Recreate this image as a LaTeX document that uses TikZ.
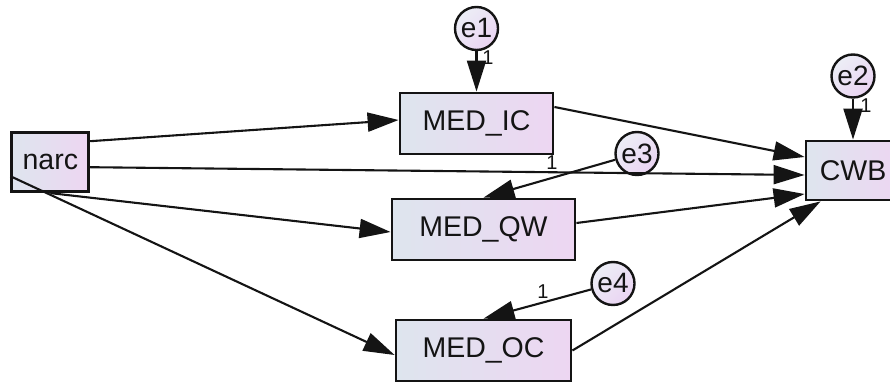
\documentclass[tikz,border=0pt]{standalone}
\usepackage{fontspec}
\setmainfont{Liberation Sans}
\usetikzlibrary{arrows.meta}

\definecolor{fillL}{RGB}{222,229,238}
\definecolor{fillR}{RGB}{237,214,242}
\definecolor{errL}{RGB}{236,238,246}
\definecolor{errR}{RGB}{234,212,242}
\definecolor{ink}{RGB}{20,20,20}

\tikzset{
  obs/.style={draw=ink, line width=2.8pt, left color=fillL, right color=fillR,
    inner sep=0pt, text=ink, font=\fontsize{28.5}{30}\selectfont},
  err/.style={circle, draw=ink, line width=2.4pt, top color=errL, bottom color=errR,
    shading angle=45, minimum size=43pt, inner sep=0pt, text=ink,
    font=\fontsize{28}{30}\selectfont},
  path/.style={draw=ink, line width=2.1pt, -{Triangle[length=31pt,width=19pt]}},
  weight/.style={text=ink, inner sep=0pt, font=\fontsize{20}{22}\selectfont}
}

\begin{document}
\begin{tikzpicture}[x=1pt,y=-1pt]
\useasboundingbox (0,0) rectangle (890,387);
\clip (0,0) rectangle (890,387);

% observed variables
\node[obs, minimum width=77pt,  minimum height=59pt] (narc)  at (50.3,162.2) {narc};
\node[obs, minimum width=153pt, minimum height=61pt] (medic) at (476.5,123.5) {MED\_IC};
\node[obs, minimum width=183pt, minimum height=61pt] (medqw) at (483.5,229.5) {MED\_QW};
\node[obs, minimum width=175pt, minimum height=61pt] (medoc) at (483.5,350.5) {MED\_OC};
\node[obs, minimum width=94pt,  minimum height=59pt] (cwb)   at (853,170.5) {CWB};

% error terms
\node[err] (e1) at (476.5,28.5) {e1};
\node[err] (e2) at (853,76)     {e2};
\node[err] (e3) at (637,153.5)  {e3};
\node[err] (e4) at (613,283.5)  {e4};

% regression paths
\draw[path] ([yshift=21pt]narc.east) -- ([yshift=3.5pt]medic.west);
\draw[path] ([yshift=-5pt]narc.east) -- ([yshift=-4.5pt]cwb.west);
\draw[path] (narc.south) -- ([yshift=-2.5pt]medqw.west);
\draw[path] ([yshift=-14pt]narc.west) -- ([yshift=-4.5pt]medoc.west);
\draw[path] ([yshift=16.5pt]medic.east) -- ([yshift=13.5pt]cwb.west);
\draw[path] ([yshift=6.5pt]medqw.east) -- ([yshift=-23.5pt]cwb.west);
\draw[path] (medoc.east) -- ([xshift=16pt]cwb.south west);

% error paths
\draw[path] (e1) -- (medic.north);
\draw[path] (e2) -- (cwb.north);
\draw[path] (e3) -- (medqw.north);
\draw[path] (e4) -- (medoc.north);

% fixed weights
\node[weight] (w1) at (488,58)  {1};
\node[weight] (w2) at (866,106) {1};
\node[weight] (w3) at (552,163) {1};
\node[weight] (w4) at (543,292) {1};
\end{tikzpicture}
\end{document}
